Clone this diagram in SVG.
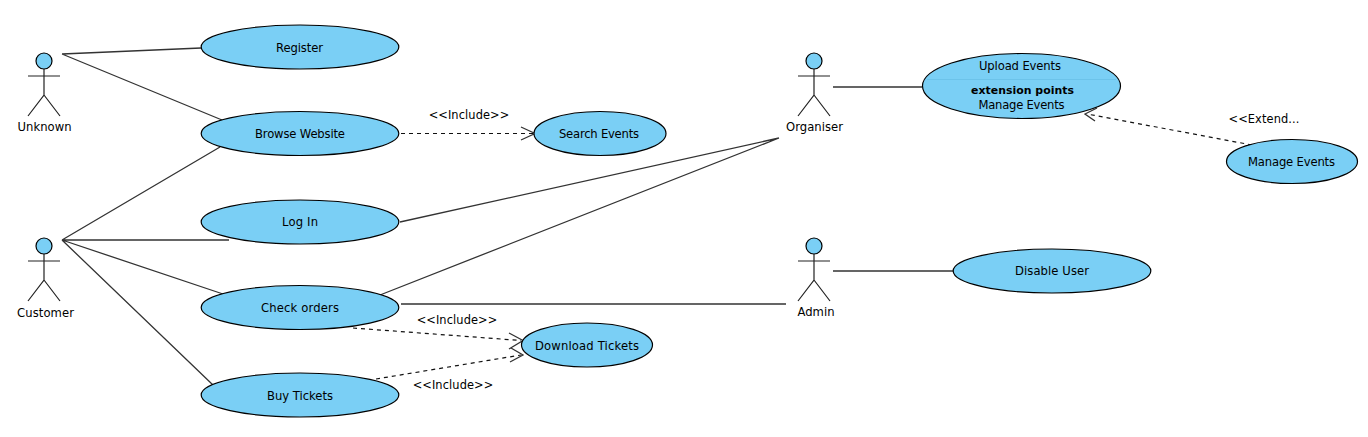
<svg xmlns="http://www.w3.org/2000/svg" width="1368" height="437" viewBox="0 0 1368 437">
<style>
text{font-family:"DejaVu Sans","Liberation Sans",sans-serif;font-size:11.6px;fill:#000;text-anchor:middle}
.b{font-weight:bold;font-size:10.9px}
.st{font-size:11.4px;letter-spacing:0.1px}
.uc{fill:#7acff5;stroke:#000;stroke-width:1.2}
.head{fill:#7acff5;stroke:#000;stroke-width:1.2}
.limb{fill:none;stroke:#222;stroke-width:1.2}
.as{fill:none;stroke:#333;stroke-width:1.3}
.dep{fill:none;stroke:#111;stroke-width:1.2;stroke-dasharray:4 4}
.ah{fill:none;stroke:#333;stroke-width:1.3}
</style>
<defs>
<g id="stick"><circle class="head" cx="0" cy="0" r="8"/><path class="limb" d="M-16 15H16M0 8V34L-16 55M0 34L16 55"/></g>
</defs>
<g id="connectors">
<path class="as" d="M62 54L201 48M62 54L222 120M62 240L220 147M62 240H229M62 240L226 295M62 240L213 385M400 222L779 138M380 295L779 138M401 304H786M833 87H922M833 271H953"/>
<path class="dep" d="M401 133.500H533M353 328L521 340.500M376 379L521 355M1252 145L1087 114"/>
<path class="ah" d="M521 127L535 133.500L521 140M509 333L523 340.500L509 349M511 348L523 355L510 362M1097 108L1085 114L1095 121"/>
</g>
<g id="actor-unknown"><use href="#stick" x="44" y="61"/><text x="44.500" y="131" textLength="54">Unknown</text></g>
<g id="actor-customer"><use href="#stick" x="44" y="246"/><text x="45.500" y="317" textLength="57">Customer</text></g>
<g id="actor-organiser"><use href="#stick" x="814" y="61"/><text x="814.500" y="131" textLength="57">Organiser</text></g>
<g id="actor-admin"><use href="#stick" x="814" y="246"/><text x="816" y="316" textLength="37">Admin</text></g>
<g id="uc-register"><ellipse class="uc" cx="300" cy="47" rx="98.800" ry="22"/><text x="299.500" y="51.500" textLength="47">Register</text></g>
<g id="uc-browse"><ellipse class="uc" cx="300" cy="133.500" rx="98.800" ry="22"/><text x="300" y="138" textLength="90">Browse Website</text></g>
<g id="uc-login"><ellipse class="uc" cx="300" cy="222" rx="98.800" ry="22"/><text x="300" y="226" textLength="36">Log In</text></g>
<g id="uc-check"><ellipse class="uc" cx="300" cy="307.500" rx="98.800" ry="22"/><text x="300" y="312" textLength="78">Check orders</text></g>
<g id="uc-buy"><ellipse class="uc" cx="300" cy="395" rx="98.800" ry="22"/><text x="300" y="400" textLength="66">Buy Tickets</text></g>
<g id="uc-search"><ellipse class="uc" cx="600" cy="133.500" rx="66" ry="22"/><text x="599" y="138" textLength="80">Search Events</text></g>
<g id="uc-download"><ellipse class="uc" cx="587" cy="345" rx="65.500" ry="22"/><text x="587" y="350" textLength="104">Download Tickets</text></g>
<g id="uc-upload"><ellipse class="uc" cx="1021.500" cy="86" rx="99" ry="32.500"/><path d="M927 79.500H1116" stroke="#6cc3ea" stroke-width="1"/><text x="1020" y="70" textLength="82">Upload Events</text><text class="b" x="1022.500" y="94" textLength="103">extension points</text><text x="1021.500" y="109" textLength="86">Manage Events</text></g>
<g id="uc-manage"><ellipse class="uc" cx="1292" cy="161.500" rx="65.500" ry="22"/><text x="1291.500" y="166" textLength="87">Manage Events</text></g>
<g id="uc-disable"><ellipse class="uc" cx="1052" cy="271" rx="98.800" ry="22"/><text x="1052" y="275" textLength="74">Disable User</text></g>
<g id="labels">
<text class="st" x="469" y="119">&lt;&lt;Include&gt;&gt;</text>
<text class="st" x="457" y="324">&lt;&lt;Include&gt;&gt;</text>
<text class="st" x="453" y="389">&lt;&lt;Include&gt;&gt;</text>
<text class="st" x="1264" y="123">&lt;&lt;Extend...</text>
</g>
</svg>
